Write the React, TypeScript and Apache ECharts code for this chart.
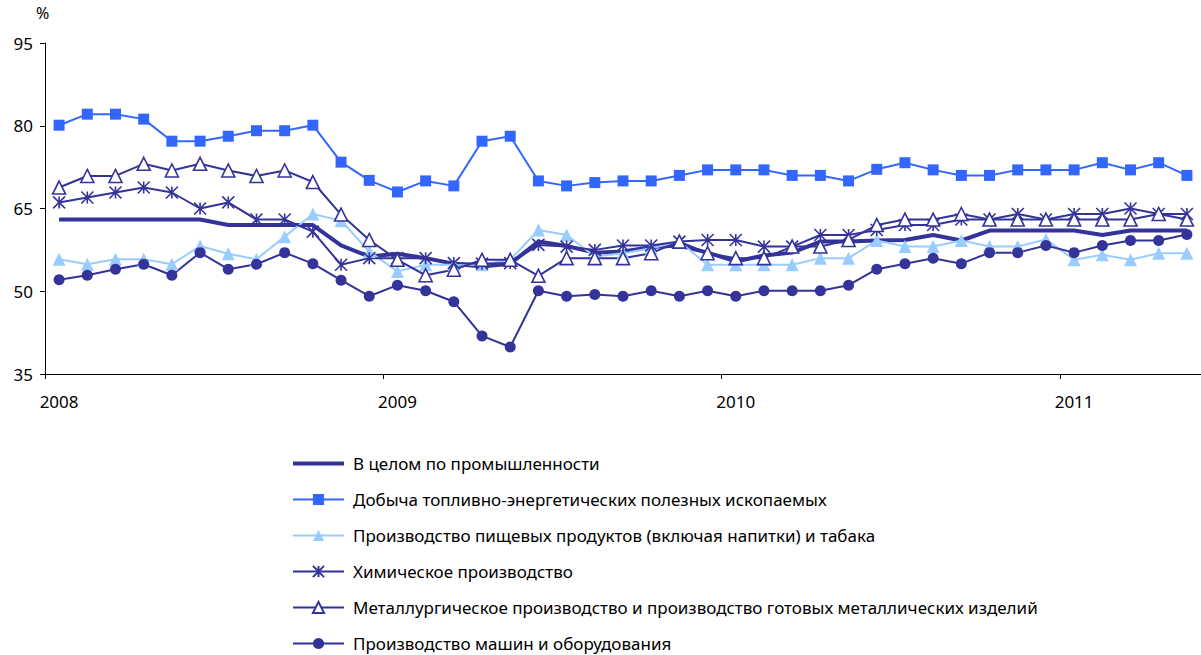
import React, { useEffect, useRef } from "react";
import * as echarts from "echarts";

const months = [
  "2008-01","2008-02","2008-03","2008-04","2008-05","2008-06","2008-07","2008-08","2008-09","2008-10","2008-11","2008-12",
  "2009-01","2009-02","2009-03","2009-04","2009-05","2009-06","2009-07","2009-08","2009-09","2009-10","2009-11","2009-12",
  "2010-01","2010-02","2010-03","2010-04","2010-05","2010-06","2010-07","2010-08","2010-09","2010-10","2010-11","2010-12",
  "2011-01","2011-02","2011-03","2011-04","2011-05",
];

const totalIndustry = [
  63, 63, 63, 63, 63, 63, 62, 62, 62, 62, 58.3, 56.3,
  56.8, 56, 55, 54.5, 55, 59, 58.2, 57, 57.2, 58, 58.3, 57,
  55.4, 56.5, 57, 59, 59, 59.2, 59.3, 60.2, 59.2, 61, 61, 61,
  61, 60.2, 61, 61, 61,
];

const fuelMining = [
  80.1, 82.1, 82.1, 81.2, 77.2, 77.2, 78.1, 79.1, 79.1, 80.1, 73.4, 70.1,
  68.0, 70.0, 69.1, 77.2, 78.1, 70.0, 69.1, 69.7, 70.0, 70.0, 71.0, 72.0,
  72.0, 72.0, 71.0, 71.0, 70.0, 72.1, 73.3, 72.0, 71.0, 71.0, 72.0, 72.0,
  72.0, 73.3, 72.0, 73.3, 71.0,
];

const food = [
  55.8, 54.9, 55.8, 55.8, 54.9, 58.2, 56.8, 55.8, 59.9, 64.0, 62.8, 57.2,
  53.6, 54.8, 54.8, 54.8, 55.7, 61.1, 60.2, 56.3, 56.9, 57.8, 59.0, 54.8,
  54.8, 54.8, 54.8, 56.0, 56.0, 59.2, 58.1, 58.1, 59.2, 58.1, 58.1, 59.4,
  55.7, 56.6, 55.7, 56.9, 56.9,
];

const chemical = [
  66.1, 67.0, 67.9, 68.8, 67.9, 65.0, 66.1, 63.0, 63.0, 60.8, 54.8, 56.0,
  56.0, 56.0, 55.1, 55.0, 55.1, 58.4, 58.1, 57.5, 58.3, 58.3, 59.0, 59.3,
  59.3, 58.1, 58.1, 60.2, 60.2, 61.1, 62.0, 62.0, 63.0, 63.0, 64.0, 63.0,
  64.0, 64.0, 65.0, 64.0, 64.0,
];

const metallurgy = [
  68.8, 70.9, 70.9, 73.1, 71.9, 73.1, 71.9, 70.9, 71.9, 69.8, 63.9, 59.3,
  55.7, 52.9, 53.9, 55.7, 55.7, 52.8, 56.0, 56.0, 56.0, 56.9, 59.0, 56.9,
  56.0, 56.0, 58.1, 58.1, 59.3, 62.0, 63.0, 63.0, 64.0, 63.0, 63.0, 63.0,
  63.0, 63.0, 63.0, 64.0, 63.0,
];

const machinery = [
  52.1, 52.9, 54.0, 54.9, 52.9, 57.0, 54.0, 54.9, 57.0, 55.0, 52.0, 49.1,
  51.1, 50.1, 48.1, 41.9, 39.9, 50.1, 49.1, 49.4, 49.1, 50.1, 49.1, 50.1,
  49.1, 50.1, 50.1, 50.1, 51.1, 54.0, 55.0, 56.0, 55.0, 57.0, 57.0, 58.3,
  57.0, 58.3, 59.2, 59.2, 60.3,
];

const seriesNames = [
  "В целом по промышленности",
  "Добыча топливно-энергетических полезных ископаемых",
  "Производство пищевых продуктов (включая напитки) и табака",
  "Химическое производство",
  "Металлургическое производство и производство готовых металлических изделий",
  "Производство машин и оборудования",
];

const yTicks = { min: 35, max: 95, interval: 15 };

const FONT = "'Noto Sans', sans-serif";
const NAVY = "#333399";
const ASTERISK = "path://M5,0L5,10M0,0L10,10M0,10L10,0";

export default function App() {
  const ref = useRef<HTMLDivElement>(null);
  useEffect(() => {
    if (!ref.current) return;
    const chart = echarts.init(ref.current, null, { renderer: "svg" });
    chart.setOption({
      animation: false,
      backgroundColor: "#ffffff",
      textStyle: { fontFamily: FONT },
      graphic: [
        {
          type: "text",
          left: 36,
          top: 5,
          style: { text: "%", font: `16px ${FONT}`, fill: "#000" },
        },
      ],
      grid: { left: 45, top: 43, width: 1160, height: 331 },
      legend: {
        orient: "vertical",
        left: 291,
        top: 455,
        height: 240,
        padding: 0,
        itemWidth: 51,
        itemHeight: 14,
        itemGap: 19,
        textStyle: { fontSize: 17, color: "#000", fontFamily: FONT, padding: [0, 0, 0, 4] },
        data: [
          { name: seriesNames[0], itemStyle: { opacity: 0 }, lineStyle: { width: 4 } },
          seriesNames[1],
          seriesNames[2],
          seriesNames[3],
          seriesNames[4],
          seriesNames[5],
        ],
      },
      xAxis: {
        type: "category",
        data: months,
        boundaryGap: true,
        axisLine: { show: true, lineStyle: { color: "#000", width: 1 } },
        axisTick: { show: true, interval: 11, length: 5, lineStyle: { color: "#000" } },
        axisLabel: {
          interval: 11,
          margin: 19,
          fontSize: 17,
          color: "#000",
          fontFamily: FONT,
          formatter: (v: string) => v.slice(0, 4),
        },
        splitLine: { show: false },
      },
      yAxis: {
        type: "value",
        min: yTicks.min,
        max: yTicks.max,
        interval: yTicks.interval,
        axisLine: { show: true, lineStyle: { color: "#000", width: 1 } },
        axisTick: { show: true, length: 5, lineStyle: { color: "#000" } },
        axisLabel: { margin: 12, fontSize: 17, color: "#000", fontFamily: FONT },
        splitLine: { show: false },
      },
      series: [
        {
          name: seriesNames[0],
          type: "line",
          data: totalIndustry,
          symbol: "none",
          lineStyle: { color: NAVY, width: 4 },
          itemStyle: { color: NAVY },
        },
        {
          name: seriesNames[1],
          type: "line",
          data: fuelMining,
          symbol: "rect",
          symbolSize: 11,
          lineStyle: { color: "#3366FF", width: 2 },
          itemStyle: { color: "#3366FF" },
        },
        {
          name: seriesNames[2],
          type: "line",
          data: food,
          symbol: "triangle",
          symbolSize: 13,
          lineStyle: { color: "#99CCFF", width: 2 },
          itemStyle: { color: "#99CCFF" },
        },
        {
          name: seriesNames[3],
          type: "line",
          data: chemical,
          symbol: ASTERISK,
          symbolSize: 12,
          lineStyle: { color: NAVY, width: 2 },
          itemStyle: { color: NAVY, borderColor: NAVY, borderWidth: 1.6 },
        },
        {
          name: seriesNames[4],
          type: "line",
          data: metallurgy,
          symbol: "triangle",
          symbolSize: 13,
          lineStyle: { color: NAVY, width: 2 },
          itemStyle: { color: "#ffffff", borderColor: NAVY, borderWidth: 1.6 },
        },
        {
          name: seriesNames[5],
          type: "line",
          data: machinery,
          symbol: "circle",
          symbolSize: 11,
          lineStyle: { color: NAVY, width: 2 },
          itemStyle: { color: NAVY },
        },
      ],
    });
    return () => chart.dispose();
  }, []);
  return (
    <div
      ref={ref}
      style={{ position: "absolute", left: 0, top: 0, width: 1201, height: 655 }}
    />
  );
}
